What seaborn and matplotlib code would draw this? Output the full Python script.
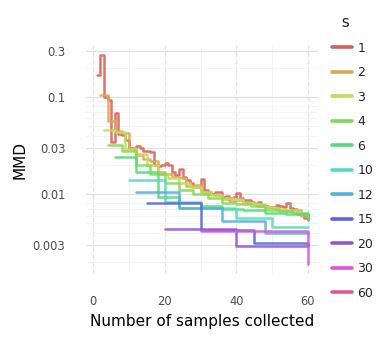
import numpy as np
import pandas as pd
import matplotlib
matplotlib.use("Agg")
import matplotlib.pyplot as plt
import seaborn as sns

# sample-size settings (legend order)
s_values = [1, 2, 3, 4, 6, 10, 12, 15, 20, 30, 60]

# MMD, one list per s (x = s, 2s, ..., 60)
mmd_s1 = [0.17, 0.27, 0.10, 0.092, 0.034, 0.068, 0.042, 0.041, 0.036, 0.030,
          0.029, 0.031, 0.030, 0.028, 0.028, 0.027, 0.020, 0.0195, 0.020, 0.021,
          0.020, 0.0168, 0.0157, 0.018, 0.015, 0.014, 0.013, 0.0119, 0.0119, 0.0142,
          0.011, 0.0105, 0.0100, 0.0104, 0.0106, 0.0093, 0.0095, 0.0090, 0.0092, 0.0102,
          0.0091, 0.0087, 0.0086, 0.0083, 0.0079, 0.0082, 0.0077, 0.0076, 0.0074, 0.0073,
          0.0077, 0.0075, 0.0074, 0.0080, 0.0071, 0.0070, 0.0062, 0.0062, 0.0056, 0.0054]
mmd_s2 = [0.105, 0.056, 0.045, 0.043, 0.030, 0.025, 0.023, 0.022, 0.017, 0.016,
          0.015, 0.0145, 0.012, 0.0125, 0.0105, 0.0100, 0.0098, 0.0088, 0.0085, 0.0087,
          0.0082, 0.0080, 0.0076, 0.0073, 0.0071, 0.0068, 0.0066, 0.0068, 0.0060, 0.0058]
mmd_s3 = [0.046, 0.044, 0.029, 0.026, 0.020, 0.016, 0.0145, 0.0130, 0.0118, 0.0105,
          0.0097, 0.0090, 0.0088, 0.0080, 0.0078, 0.0074, 0.0070, 0.0068, 0.0062, 0.0060]
mmd_s4 = [0.032, 0.028, 0.020, 0.016, 0.0130, 0.0110, 0.0100, 0.0090, 0.0080, 0.0078,
          0.0075, 0.0068, 0.0066, 0.0064, 0.0060]
mmd_s6 = [0.0243, 0.017, 0.0094, 0.0071, 0.0075, 0.0070, 0.0068, 0.0063, 0.0062, 0.0055]
mmd_s10 = [0.0139, 0.0083, 0.0072, 0.0056, 0.0046, 0.0046]
mmd_s12 = [0.0106, 0.0071, 0.0053, 0.0040, 0.0040]
mmd_s15 = [0.0080, 0.0043, 0.0031, 0.0030]
mmd_s20 = [0.0044, 0.0029, 0.0029]
mmd_s30 = [0.0042, 0.0019]
mmd_s60 = [0.0045]

series = [mmd_s1, mmd_s2, mmd_s3, mmd_s4, mmd_s6, mmd_s10,
          mmd_s12, mmd_s15, mmd_s20, mmd_s30, mmd_s60]

rows = []
for s, vals in zip(s_values, series):
    for i, v in enumerate(vals):
        rows.append({"n": s * (i + 1), "mmd": v, "s": str(s)})
df = pd.DataFrame(rows)

sns.set_theme(style="white")
plt.rcParams['font.family'] = ['DejaVu Sans']

fig = plt.figure(figsize=(3.86, 3.39), dpi=100)
ax = fig.add_axes([0.2236, 0.1903, 0.601, 0.678])

palette = sns.color_palette("hls", len(s_values))
sns.lineplot(data=df, x="n", y="mmd", hue="s", hue_order=[str(s) for s in s_values],
             palette=palette, drawstyle="steps-post", linewidth=1.8, alpha=0.88,
             ax=ax, legend=False)

ax.set_yscale("log")
ax.set_ylim(0.00148, 0.346)
ax.set_xlim(-1.95, 62.95)
ax.set_xticks([0, 20, 40, 60])
ax.set_xticks([10, 30, 50], minor=True)
ax.set_yticks([0.003, 0.01, 0.03, 0.1, 0.3])
ax.set_yticklabels(["0.003", "0.01", "0.03", "0.1", "0.3"])

ax.grid(True, which="major", axis="y", color="#e2e2e2", linewidth=0.9)
ax.grid(True, which="major", axis="x", color="#e2e2e2", linewidth=0.9, linestyle=(0, (4, 2)))
ax.grid(True, which="minor", color="#f3f3f3", linewidth=0.6)
ax.set_axisbelow(True)
for sp in ax.spines.values():
    sp.set_visible(False)
ax.tick_params(which="both", length=0, labelsize=8.3, labelcolor="#4d4d4d", pad=15)
ax.tick_params(axis="y", which="minor", labelleft=False)

ax.set_xlabel("Number of samples collected", fontsize=11, color="black", labelpad=4)
ax.set_ylabel("MMD", fontsize=11, color="black", labelpad=4)

# legend on the right, built by hand
handles = [plt.Line2D([], [], color=c, lw=2.6) for c in palette]
leg = fig.legend(handles, [str(s) for s in s_values], title="  s",
                 loc="upper left", bbox_to_anchor=(321 / 386, 1 - 4 / 339),
                 frameon=False, fontsize=9, title_fontsize=11,
                 handlelength=1.55, handletextpad=0.45, labelspacing=0.92)
leg._legend_box.align = "left"

fig.savefig("out.png", dpi=100)
